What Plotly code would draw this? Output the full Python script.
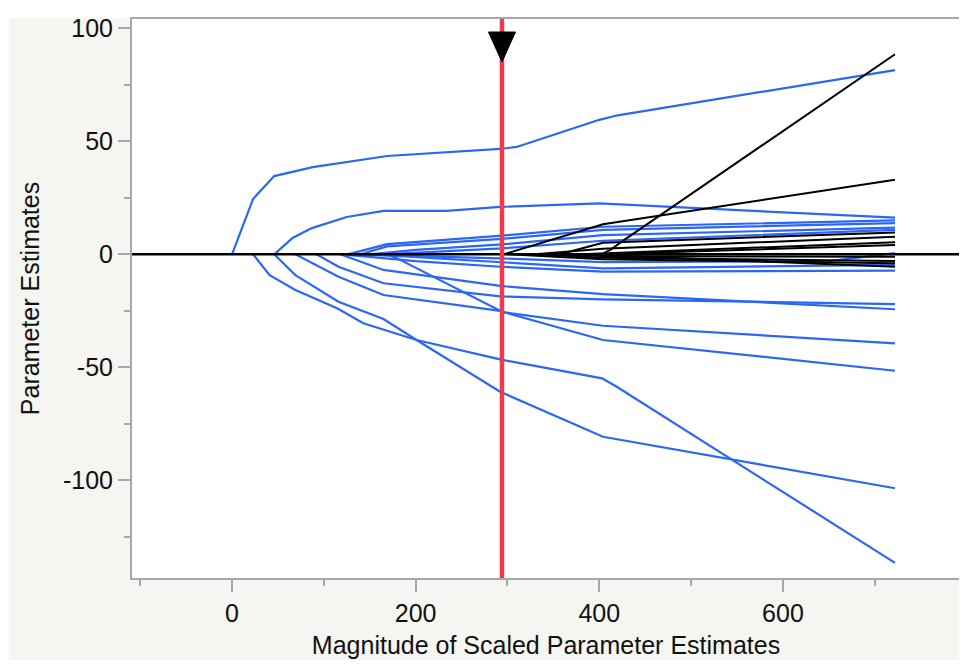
import plotly.graph_objects as go

# ---------------- data ----------------
# Blue paths (active before the selected step)
blue_1_x = [0, 23, 46, 88, 169, 292, 310, 400, 420, 722]
blue_1_y = [0, 24.5, 34.6, 38.6, 43.5, 46.6, 47.5, 59.5, 61.5, 81.5]
blue_2_x = [46, 66, 87, 125, 165, 234, 292, 400, 722]
blue_2_y = [0, 7.2, 11.6, 16.5, 19.2, 19.2, 21.0, 22.5, 16.2]
blue_3_x = [126, 169, 294, 404, 722]
blue_3_y = [0, 4.5, 8.3, 12.2, 15.0]
blue_4_x = [140, 169, 294, 404, 722]
blue_4_y = [0, 3.5, 6.8, 10.8, 13.8]
blue_5_x = [150, 200, 294, 404, 722]
blue_5_y = [0, 2.0, 4.4, 8.5, 11.8]
blue_6_x = [165, 294, 404, 722]
blue_6_y = [0, 2.6, 6.0, 10.8]
blue_7_x = [23, 41, 69, 115, 143, 201, 292, 403, 419, 722]
blue_7_y = [0, -9.2, -15.8, -24.0, -30.5, -37.9, -46.5, -54.9, -58.6, -136.5]
blue_8_x = [46, 69, 116, 165, 201, 292, 404, 722]
blue_8_y = [0, -9.2, -21.0, -28.6, -37.9, -60.8, -80.7, -103.5]
blue_9_x = [69, 116, 165, 292, 297, 404, 722]
blue_9_y = [0, -9.9, -18.0, -25.0, -25.7, -31.6, -39.4]
blue_10_x = [169, 180, 292, 297, 404, 722]
blue_10_y = [0, -1.8, -25.0, -25.7, -37.9, -51.5]
blue_11_x = [92, 116, 165, 292, 404, 722]
blue_11_y = [0, -5.5, -12.8, -18.6, -19.9, -22.0]
blue_12_x = [118, 165, 292, 404, 722]
blue_12_y = [0, -6.9, -14.0, -17.6, -24.3]
blue_13_x = [130, 292, 404, 650, 722]
blue_13_y = [0, -1.8, -3.5, -3.0, 0.5]
blue_14_x = [150, 292, 404, 722]
blue_14_y = [0, -3.3, -6.2, -4.7]
blue_15_x = [120, 200, 292, 404, 722]
blue_15_y = [0, -3.0, -5.5, -7.7, -7.2]

# Black paths (enter after the selected step)
black_1_x = [402, 412, 428, 722]
black_1_y = [0, 2.0, 6.6, 88.5]
black_2_x = [296, 404, 722]
black_2_y = [0, 13.3, 33.0]
black_3_x = [357, 404, 722]
black_3_y = [0, 5.1, 9.7]
black_4_x = [330, 404, 722]
black_4_y = [0, 2.5, 7.8]
black_5_x = [380, 722]
black_5_y = [0, 5.3]
black_6_x = [400, 722]
black_6_y = [0, 4.1]
black_7_x = [350, 404, 722]
black_7_y = [0, -0.8, -1.1]
black_8_x = [300, 404, 722]
black_8_y = [0, -2.2, -4.0]
black_9_x = [380, 722]
black_9_y = [0, -5.5]
black_10_x = [330, 404, 722]
black_10_y = [0, -1.5, -3.0]

selected_step = 294
x_tick_vals = [0, 200, 400, 600]
x_tick_text = ["0", "200", "400", "600"]
x_minor_vals = [-100, 100, 300, 500, 700]
y_tick_vals = [-100, -50, 0, 50, 100]
y_tick_text = ["-100", "-50", "0", "50", "100"]
y_minor_vals = [-125, -75, -25, 25, 75]

blue_paths = [
    (blue_1_x, blue_1_y), (blue_2_x, blue_2_y), (blue_3_x, blue_3_y),
    (blue_4_x, blue_4_y), (blue_5_x, blue_5_y), (blue_6_x, blue_6_y),
    (blue_7_x, blue_7_y), (blue_8_x, blue_8_y), (blue_9_x, blue_9_y),
    (blue_10_x, blue_10_y), (blue_11_x, blue_11_y), (blue_12_x, blue_12_y),
    (blue_13_x, blue_13_y), (blue_14_x, blue_14_y), (blue_15_x, blue_15_y),
]
black_paths = [
    (black_1_x, black_1_y), (black_2_x, black_2_y), (black_3_x, black_3_y),
    (black_4_x, black_4_y), (black_5_x, black_5_y), (black_6_x, black_6_y),
    (black_7_x, black_7_y), (black_8_x, black_8_y), (black_9_x, black_9_y),
    (black_10_x, black_10_y),
]

BLUE = "#2B67F6"
FONT = "Liberation Sans, Arial, sans-serif"
FRAME = "#A8A8A8"
FS = 25

fig = go.Figure()
for xs, ys in blue_paths:
    fig.add_trace(go.Scatter(x=xs, y=ys, mode="lines",
                             line=dict(color=BLUE, width=2.2), hoverinfo="skip"))
for xs, ys in black_paths:
    fig.add_trace(go.Scatter(x=xs, y=ys, mode="lines",
                             line=dict(color="black", width=2), hoverinfo="skip"))

shapes = [
    # outer light-gray panel
    dict(type="rect", xref="paper", yref="paper", x0=-0.1486, x1=1.0024,
         y0=-0.1467, y1=1.0018, fillcolor="#F5F5F1", line_width=0, layer="below"),
    # white plot frame
    dict(type="rect", xref="paper", yref="paper", x0=0, x1=1, y0=0, y1=1,
         fillcolor="white", line_width=0, layer="below"),
    # zero line
    dict(type="line", xref="paper", yref="y", x0=0, x1=1, y0=0, y1=0,
         line=dict(color="black", width=2.5), layer="above"),
    # selected step line
    dict(type="line", xref="x", yref="paper", x0=selected_step, x1=selected_step,
         y0=0, y1=1, line=dict(color="#EE3A50", width=4.5), layer="above"),
    # handle triangle
    dict(type="path", xref="x", yref="paper", xsizemode="pixel", ysizemode="pixel",
         xanchor=selected_step, yanchor=1,
         path="M -13.5,-13 L 13.5,-13 L 0,-43 Z",
         fillcolor="black", line=dict(color="black", width=1), layer="above"),
]

fig.update_layout(
    width=959, height=661,
    margin=dict(l=124, r=7, t=11, b=91, autoexpand=False),
    paper_bgcolor="white", plot_bgcolor="white",
    showlegend=False,
    shapes=shapes,
    font=dict(family=FONT, size=FS, color="#111111"),
)
fig.update_xaxes(
    range=[-108.9, 792.8], showgrid=False, zeroline=False, automargin=False,
    showline=True, mirror=True, linecolor=FRAME, linewidth=2,
    tickmode="array", tickvals=x_tick_vals, ticktext=x_tick_text,
    ticks="outside", ticklen=12, tickwidth=2, tickcolor=FRAME,
    minor=dict(tickmode="array", tickvals=x_minor_vals, ticks="outside",
               ticklen=6, tickwidth=2, tickcolor=FRAME),
    tickfont=dict(size=FS, family=FONT, color="#111111"),
    title=dict(text="Magnitude of Scaled Parameter Estimates",
               font=dict(size=FS, family=FONT, color="#111111"), standoff=10),
)
fig.update_yaxes(
    range=[-143.2, 104.1], showgrid=False, zeroline=False, automargin=False,
    showline=True, mirror=True, linecolor=FRAME, linewidth=2,
    tickmode="array", tickvals=y_tick_vals, ticktext=y_tick_text,
    ticks="outside", ticklen=12, tickwidth=2, tickcolor=FRAME,
    minor=dict(tickmode="array", tickvals=y_minor_vals, ticks="outside",
               ticklen=6, tickwidth=2, tickcolor=FRAME),
    tickfont=dict(size=FS, family=FONT, color="#111111"),
    title=dict(text="Parameter Estimates",
               font=dict(size=FS, family=FONT, color="#111111"), standoff=16),
)

fig.write_html("out.html")
